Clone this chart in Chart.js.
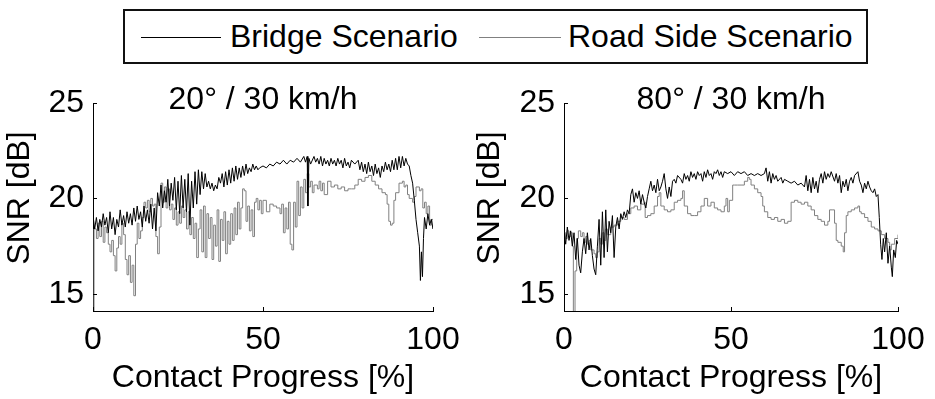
<!DOCTYPE html>
<html><head><meta charset="utf-8">
<script src="https://cdn.jsdelivr.net/npm/chart.js@4.4.1/dist/chart.umd.min.js"></script>
<style>
html,body{margin:0;padding:0;background:#fff;}
#wrap{position:relative;width:935px;height:399px;overflow:hidden;background:#fff;font-family:"Liberation Sans",Arial,sans-serif;color:#000;}
canvas{position:absolute;top:0;}
#legend{position:absolute;left:123px;top:9px;width:741px;height:51px;border:2px solid #111;background:#fff;}
#legend .ln{position:absolute;top:26px;height:0;}
#legend .tx{position:absolute;top:7px;font-size:32px;line-height:36px;white-space:nowrap;}
</style></head>
<body><div id="wrap">
<canvas id="c1" width="470" height="399" style="left:0"></canvas>
<canvas id="c2" width="465" height="399" style="left:470px"></canvas>
<div id="legend">
  <div class="ln" style="left:16px;width:80px;border-top:1px solid #000"></div>
  <div class="tx" style="left:105px">Bridge Scenario</div>
  <div class="ln" style="left:354px;width:82px;border-top:1px solid #808080"></div>
  <div class="tx" style="left:443px">Road Side Scenario</div>
</div>
</div>
<script>
const seriesNames = ['Bridge Scenario', 'Road Side Scenario'];
const panelTitles = ['20\u00b0 / 30 km/h', '80\u00b0 / 30 km/h'];
const xTicks = [0, 50, 100];
const yTicks = [15, 20, 25];
const yMin = 14.1, yMax = 25;

// 20 deg panel [progress %, SNR dB]
const bridge20 = [[0,19.1],[0.5,18.4],[1,19.0],[1.5,18.3],[2,18.9],[2.5,18.5],[3,19.2],[3.5,18.6],[4,19.0],[4.5,18.2],[5,19.3],[5.5,18.4],[6,19.0],[6.5,18.1],[7,18.9],[7.5,18.5],[8,19.4],[8.5,18.6],[9,19.1],[9.5,18.5],[10,19.3],[10.5,18.7],[11,19.2],[11.5,18.6],[12,19.5],[12.5,18.8],[13,19.6],[13.5,18.9],[14,19.3],[14.5,18.5],[15,19.6],[15.5,18.8],[16,19.4],[16.5,18.7],[17,19.7],[17.5,18.4],[18,19.5],[18.5,18.3],[19,20.3],[19.5,19.6],[20,20.7],[20.5,19.5],[21,20.4],[21.5,19.8],[22,21.0],[22.5,19.6],[23,20.8],[23.5,19.9],[24,21.1],[24.5,19.4],[25,20.9],[25.5,19.2],[26,21.2],[26.5,19.5],[27,21.0],[27.5,19.3],[28,21.3],[28.5,18.6],[29,20.9],[29.5,19.5],[30,21.4],[30.5,19.7],[31,21.5],[31.5,20.2],[32,21.4],[32.5,20.5],[33,21.3],[33.5,20.6],[34,20.9],[34.5,20.5],[35,20.8],[35.5,20.4],[36,20.7],[36.5,20.5],[37,21.1],[37.5,20.8],[38,21.3],[38.5,20.6],[39,21.4],[39.5,20.7],[40,21.5],[40.5,20.8],[41,21.6],[41.5,20.9],[42,21.7],[42.5,21.0],[43,21.6],[43.5,21.1],[44,21.7],[44.5,21.2],[45,21.8],[45.5,21.3],[46,21.6],[46.5,21.4],[47,21.8],[47.5,21.5],[48,21.7],[48.5,21.5],[49,21.6],[50,21.7],[51,21.6],[52,21.8],[53,21.7],[54,21.9],[55,21.8],[56,22.0],[57,21.8],[58,22.0],[59,21.9],[60,22.1],[61,21.9],[62,22.2],[62.5,21.9],[63,22.2],[63.2,19.6],[63.5,22.1],[64,21.8],[65,22.2],[65.5,21.9],[66,22.1],[66.5,21.8],[67,22.2],[67.5,21.7],[68,22.1],[68.5,21.8],[69,22.0],[69.5,21.7],[70,22.1],[70.5,21.8],[71,22.0],[71.5,21.7],[72,22.1],[72.5,21.8],[73,22.0],[73.5,21.6],[74,22.1],[74.5,21.7],[75,21.9],[75.5,21.6],[76,22.0],[77,21.8],[78,22.0],[78.5,21.5],[79,21.9],[79.5,21.4],[80,21.8],[80.5,21.3],[81,21.9],[81.5,21.4],[82,21.7],[82.5,21.2],[83,21.8],[83.5,21.3],[84,21.6],[84.5,21.1],[85,21.7],[85.5,21.4],[86,21.9],[86.5,21.5],[87,21.8],[87.5,21.4],[88,22.0],[88.5,21.5],[89,22.1],[89.5,21.5],[90,22.2],[90.5,21.6],[91,22.2],[91.5,21.7],[92,22.1],[92.5,21.8],[93,21.7],[93.5,21.2],[94,20.8],[94.5,19.9],[95,18.9],[95.5,18.2],[96,17.5],[96.3,15.7],[96.6,17.2],[96.9,15.9],[97.2,17.9],[97.5,19.0],[98,18.4],[98.5,19.2],[99,18.6],[99.5,18.9],[100,18.4]];
const road20 = [[0,13.5],[0.3,18.4],[1,17.9],[1.5,18.7],[2,18.0],[2.5,18.8],[3,17.7],[3.5,18.5],[4,18.2],[4.5,17.6],[5,17.2],[5.5,17.8],[6,17.0],[6.5,16.2],[7,17.4],[7.5,18.0],[8,17.6],[8.5,18.7],[9,18.1],[9.5,16.8],[10,16.0],[10.5,17.0],[11,15.6],[11.5,16.5],[12,14.9],[12.5,17.6],[13,18.7],[13.5,17.9],[14,18.3],[14.5,19.0],[15,19.8],[15.5,19.5],[16,19.9],[16.5,19.3],[17,20.0],[17.5,19.6],[18,19.7],[18.5,18.0],[19,17.1],[19.5,18.5],[20,20.8],[20.5,19.8],[21,20.6],[21.5,19.5],[22,20.5],[22.5,19.4],[23,19.7],[23.5,18.9],[24,19.5],[24.5,18.6],[25,19.3],[25.5,18.7],[26,19.6],[26.5,19.0],[27,19.4],[27.5,18.4],[28,19.3],[28.5,18.1],[29,19.0],[29.5,17.9],[30,18.7],[30.5,16.9],[31,18.4],[31.5,19.4],[32,17.2],[32.5,19.6],[33,16.9],[33.5,19.2],[34,17.9],[34.5,19.0],[35,16.8],[35.5,18.6],[36,17.5],[36.5,19.4],[37,16.7],[37.5,18.9],[38,17.8],[38.5,19.3],[39,17.1],[39.5,18.8],[40,17.6],[40.5,19.2],[41,17.8],[41.5,19.5],[42,18.1],[42.5,19.8],[43,18.4],[43.5,19.5],[44,20.5],[44.5,20.4],[45,18.8],[45.5,19.6],[46,18.3],[46.5,19.4],[47,18.0],[47.5,19.8],[48,20.0],[48.5,19.4],[49,19.9],[49.5,19.2],[50,19.9],[51,19.3],[52,19.7],[53,19.6],[54,19.5],[55,19.2],[55.5,19.7],[56,18.2],[56.5,19.5],[57,18.4],[57.5,19.8],[58,17.6],[58.5,17.3],[59,19.8],[59.5,18.5],[60,20.9],[60.5,19.1],[61,20.6],[61.5,19.5],[62,21.0],[62.5,20.3],[63,21.3],[63.5,20.6],[64,20.9],[64.5,20.3],[65,20.7],[66,20.5],[66.5,20.9],[67,20.4],[67.5,20.8],[68,20.2],[69,20.9],[70,20.6],[71,20.7],[72,20.5],[73,20.6],[74,20.4],[75,20.5],[76,20.5],[77,20.7],[78,21.0],[79,20.9],[80,21.1],[81,21.2],[82,20.9],[83,20.7],[84,20.5],[85,20.3],[86,20.2],[86.5,19.7],[87,18.8],[87.5,18.6],[88,18.7],[88.5,19.9],[89,20.3],[90,20.8],[91,20.9],[91.5,20.6],[92,20.7],[92.5,20.2],[93,20.0],[94,19.8],[94.5,20.1],[95,20.6],[96,20.4],[96.5,20.5],[97,19.5],[97.5,19.8],[98,19.2],[98.5,19.6],[99,18.6],[99.5,18.9],[100,18.4]];

// 80 deg panel [progress %, SNR dB]
const bridge80 = [[0,18.4],[0.5,17.6],[1,18.5],[1.5,17.8],[2,18.3],[2.5,17.5],[3,18.2],[3.5,16.8],[4,17.9],[4.5,16.5],[5,16.1],[5.5,17.2],[6,17.9],[6.5,17.1],[7,18.2],[7.5,17.3],[8,17.9],[8.5,17.0],[9,16.3],[9.5,16.0],[10,17.5],[10.5,18.9],[11,16.5],[11.5,19.3],[12,16.9],[12.5,19.4],[13,17.2],[13.5,18.8],[14,18.2],[14.5,19.1],[15,16.9],[15.5,18.5],[16,19.0],[16.5,18.4],[17,19.2],[17.5,18.9],[18,19.3],[18.5,19.0],[19,19.4],[19.5,19.2],[20,20.2],[20.5,20.5],[21,19.8],[21.5,20.3],[22,20.0],[22.5,20.4],[23,19.7],[23.5,20.2],[24,19.8],[24.5,19.5],[25,20.1],[25.5,20.5],[26,20.9],[26.5,20.4],[27,20.7],[27.5,20.3],[28,21.0],[28.5,20.4],[29,20.6],[29.5,20.9],[30,21.3],[30.5,20.5],[31,20.0],[31.5,20.6],[32,20.1],[32.5,20.9],[33,21.0],[33.5,20.8],[34,21.2],[35,21.0],[35.5,20.8],[36,21.3],[36.5,21.0],[37,21.2],[37.5,20.9],[38,21.4],[38.5,21.1],[39,21.3],[39.5,21.0],[40,21.4],[40.5,21.2],[41,21.3],[41.5,20.9],[42,21.4],[42.5,21.1],[43,21.5],[43.5,21.2],[44,21.3],[44.5,21.0],[45,21.4],[45.5,21.3],[46,21.5],[46.5,21.2],[47,21.4],[47.5,21.1],[48,21.4],[49,21.3],[50,21.4],[51,21.2],[52,21.4],[53,21.3],[54,21.4],[55,21.2],[56,21.3],[57,21.2],[58,21.3],[59,21.2],[60,21.3],[60.5,21.6],[61,20.9],[61.5,21.4],[62,20.8],[62.5,21.3],[63,21.0],[63.5,21.2],[64,20.9],[65,21.1],[65.5,20.8],[66,21.0],[67,20.9],[68,20.8],[69,20.9],[70,20.7],[71,20.8],[72,20.6],[72.5,21.2],[73,20.4],[73.5,21.0],[74,20.3],[74.5,21.1],[75,20.5],[75.5,20.9],[76,20.3],[76.5,21.0],[77,21.3],[77.5,20.8],[78,21.4],[78.5,21.0],[79,21.3],[79.5,21.1],[80,21.4],[81,20.9],[81.5,21.3],[82,20.8],[82.5,21.2],[83,20.3],[83.5,20.9],[84,20.6],[84.5,21.0],[85,20.4],[85.5,20.9],[86,21.1],[86.5,20.8],[87,21.2],[88,21.4],[88.5,20.9],[89,20.7],[89.5,20.3],[90,20.8],[90.5,20.5],[91,20.9],[91.5,20.6],[92,20.4],[92.5,20.3],[93,20.5],[93.5,20.1],[94,20.2],[94.4,19.0],[94.8,17.6],[95.2,16.8],[95.6,17.9],[96,17.2],[96.5,18.2],[97,16.6],[97.5,17.5],[98,16.4],[98.3,15.9],[98.7,17.3],[99.2,16.9],[99.6,17.8],[100,17.6]];
const road80 = [[0,18.2],[0.5,17.9],[1,18.3],[1.5,18.0],[2,18.2],[2.5,17.5],[2.8,13.5],[3.3,16.2],[3.8,17.9],[4.3,18.3],[5,18.0],[5.5,18.2],[6,17.7],[6.5,18.0],[7,17.6],[7.5,17.8],[8,17.3],[9,17.1],[9.5,16.9],[10,17.2],[10.5,17.9],[11,17.6],[11.5,18.2],[12,17.8],[12.5,18.4],[13,18.1],[14,18.5],[15,18.6],[16,18.8],[17,19.0],[18,18.9],[19,19.2],[20,19.5],[21,19.6],[22,19.4],[23,19.7],[24,19.8],[24.3,19.0],[25,19.1],[26,19.2],[27,19.6],[28,20.1],[28.5,20.3],[29,19.6],[30,19.4],[31,19.3],[32,19.4],[33,19.8],[34,19.9],[35,20.0],[35.5,20.4],[36,19.6],[37,19.2],[38,19.1],[39,19.1],[40,19.3],[41,19.6],[42,20.0],[43,19.6],[44,19.8],[45,19.5],[46,19.4],[47,19.3],[48,19.6],[48.5,20.0],[49,19.3],[49.5,19.9],[50.5,20.7],[51,20.7],[52,20.7],[53,20.7],[54,20.9],[55,21.1],[55.5,21.0],[56,20.7],[57,20.5],[58,20.3],[59,20.1],[59.5,19.6],[60,19.3],[61,19.0],[62,18.9],[63,19.0],[64,18.8],[65,18.9],[66,18.7],[67,18.8],[68,19.8],[69,19.9],[70,19.8],[71,19.7],[72,19.8],[73,19.6],[74,19.4],[75,19.1],[76,18.9],[77,18.8],[78,18.6],[79,18.8],[79.5,19.4],[80.5,19.4],[81,18.7],[81.5,17.8],[82,17.7],[83,17.5],[83.6,17.2],[84,18.2],[84.5,19.1],[85,19.3],[86,19.4],[87,19.5],[88,19.6],[88.5,19.3],[89,19.2],[90,19.0],[91,18.8],[92,18.5],[93,18.4],[94,18.3],[95,18.1],[96,17.9],[97,17.7],[97.5,17.3],[98,17.6],[99,17.9],[100,18.1]];

const FONT = '"Liberation Sans", Arial, sans-serif';
const FS = 32;

const decor = {
  id: 'decor',
  afterDraw(chart, args, opts) {
    const ctx = chart.ctx, a = chart.chartArea;
    const xs = chart.scales.x, ys = chart.scales.y;
    ctx.save();
    ctx.strokeStyle = '#000';
    ctx.lineWidth = 1;
    ctx.beginPath();
    xTicks.forEach(v => {
      const px = Math.round(xs.getPixelForValue(v)) + 0.5;
      ctx.moveTo(px, a.bottom); ctx.lineTo(px, a.bottom - 4);
    });
    yTicks.forEach(v => {
      const py = Math.round(ys.getPixelForValue(v)) + 0.5;
      ctx.moveTo(a.left, py); ctx.lineTo(a.left + 4, py);
    });
    ctx.stroke();
    ctx.fillStyle = '#000';
    ctx.font = FS + 'px ' + FONT;
    ctx.textAlign = 'center';
    ctx.textBaseline = 'middle';
    ctx.fillText(opts.title, (a.left + a.right) / 2, 100);
    ctx.translate(opts.yTitleX, 198);
    ctx.rotate(-Math.PI / 2);
    ctx.fillText('SNR [dB]', 0, 0);
    ctx.restore();
  }
};

function makePanel(id, title, bridge, road, left) {
  return new Chart(document.getElementById(id), {
    type: 'line',
    data: {
      datasets: [
        { label: seriesNames[0], data: bridge.map(p => ({x: p[0], y: p[1]})), borderColor: '#000', borderWidth: 1, pointRadius: 0, stepped: false, tension: 0, fill: false },
        { label: seriesNames[1], data: road.map(p => ({x: p[0], y: p[1]})), borderColor: '#808080', borderWidth: 1, pointRadius: 0, stepped: true, fill: false }
      ]
    },
    options: {
      responsive: false, animation: false, devicePixelRatio: 1,
      layout: { padding: { left: 0, top: 103, right: 37, bottom: 0 } },
      plugins: { legend: { display: false }, tooltip: { enabled: false }, decor: { title: title, yTitleX: 20 } },
      scales: {
        x: {
          type: 'linear', min: 0, max: 100,
          afterBuildTicks: s => { s.ticks = xTicks.map(v => ({ value: v })); },
          afterFit: s => { s.height = 88; },
          grid: { display: false, drawTicks: false },
          border: { display: true, color: '#000', width: 1 },
          ticks: { color: '#000', font: { family: FONT, size: FS }, padding: 10, maxRotation: 0, autoSkip: false },
          title: { display: true, text: 'Contact Progress [%]', color: '#000', font: { family: FONT, size: FS }, padding: { top: 0, bottom: 2 } }
        },
        y: {
          type: 'linear', min: yMin, max: yMax,
          afterBuildTicks: s => { s.ticks = yTicks.map(v => ({ value: v })); },
          afterFit: s => { s.width = left; },
          grid: { display: false, drawTicks: false },
          border: { display: true, color: '#000', width: 1 },
          ticks: { color: '#000', font: { family: FONT, size: FS }, padding: 9 }
        }
      }
    },
    plugins: [decor]
  });
}

makePanel('c1', panelTitles[0], bridge20, road20, 93);
makePanel('c2', panelTitles[1], bridge80, road80, 94);
</script>
</body></html>
